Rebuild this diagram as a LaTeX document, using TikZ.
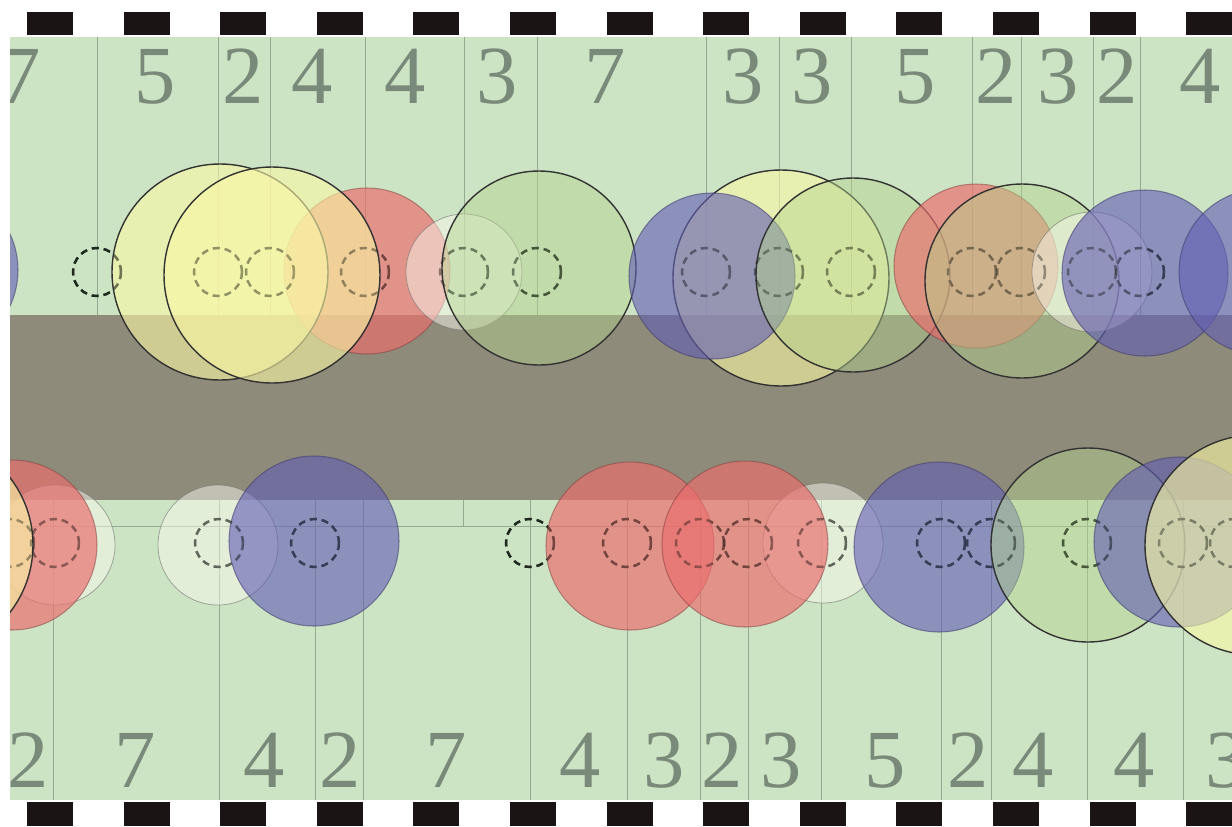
\documentclass[tikz,border=0pt]{standalone}
\usepackage{fontspec}
\setmainfont{Liberation Serif}
\definecolor{bggreen}{RGB}{205,228,196}
\definecolor{roadc}{RGB}{142,139,122}
\definecolor{gridc}{RGB}{150,170,145}
\definecolor{digitc}{RGB}{122,138,122}
\definecolor{sqc}{RGB}{26,20,20}
\definecolor{cblue}{RGB}{100,95,180}
\definecolor{cred}{RGB}{235,110,110}
\definecolor{cyel}{RGB}{250,248,165}
\definecolor{cgrn}{RGB}{180,212,140}
\definecolor{cpale}{RGB}{252,250,240}
\definecolor{dashcol}{RGB}{30,40,30}
\tikzset{
  sqbox/.style={fill=sqc},
  gridln/.style={draw=gridc, line width=0.5pt},
  digit/.style={text=digitc, anchor=base, inner sep=0pt, font=\fontsize{47}{47}\selectfont},
  bluec/.style={fill=cblue, fill opacity=0.62, draw=cblue!60!black, draw opacity=0.55, line width=0.6pt},
  redc/.style={fill=cred, fill opacity=0.68, draw=cred!55!black, draw opacity=0.5, line width=0.6pt},
  yelc/.style={fill=cyel, fill opacity=0.6, draw=black!80, line width=0.8pt},
  grnc/.style={fill=cgrn, fill opacity=0.45, draw=black!80, line width=0.8pt},
  palec/.style={fill=cpale, fill opacity=0.48, draw=black!55, draw opacity=0.6, line width=0.45pt},
  dashc/.style={draw=dashcol, line width=1.4pt, dash pattern=on 4pt off 2.8pt},
  dashtop/.style={dashc, draw opacity=0.38},
}
\newcommand{\mycirc}[4]{\path[#1] (#2,#3) circle[radius=#4*0.02cm];}
\begin{document}
\begin{tikzpicture}[x=0.02cm,y=-0.02cm]
\useasboundingbox (0,0) rectangle (1232,826);
\fill[white] (0,0) rectangle (1232,826);
% black squares
\foreach \k in {0,...,12} {
  \fill[sqbox] ({27+96.6*\k},12) rectangle ++(46,23);
  \fill[sqbox] ({27+96.6*\k},802) rectangle ++(46,24);
}
\begin{scope}
\clip (10,37) rectangle (1232,800);
\fill[bggreen] (10,37) rectangle (1232,800);
% grid lines
\foreach \x in {97,218,270,365,464,537,706,779,851,972,1021,1093,1140}
  {\draw[gridln] (\x,37) -- (\x,315);}
\foreach \x in {53,219,315,363,530,627,700,748,821,941,991,1087,1183}
  {\draw[gridln] (\x,500) -- (\x,800);}
\draw[gridln] (10,526) -- (1232,526);
\draw[gridln] (463,500) -- (463,526);
% road
\fill[roadc] (10,315) rectangle (1232,500);
% labels
\foreach \x/\d [count=\i] in {20/7,155/5,243/2,312/4,405/4,497/3,605/7,743/3,812/3,915/5,996/2,1058/3,1117/2,1200/4}
  {\node[digit] (t\i) at (\x,103) {\d};}
\foreach \x/\d [count=\i] in {28/2,135/7,264/4,340/2,446/7,580/4,664/3,722/2,781/3,885/5,968/2,1033/4,1134/4,1226/3}
  {\node[digit] (b\i) at (\x,787) {\d};}
% dashed circles (beneath)
\foreach \x in {97,218,270,365,464,537,706,779,851,972,1021,1092,1140}
  {\mycirc{dashc}{\x}{272}{24}}
\foreach \x in {10,55,219,315,530,627,700,748,822,941,991,1087,1183,1234}
  {\mycirc{dashc}{\x}{543}{24}}
% upper row circles
\mycirc{bluec}{-67}{270}{85}
\mycirc{redc}{367}{271}{83}
\mycirc{yelc}{220}{272}{108}
\mycirc{yelc}{272}{275}{108}
\mycirc{palec}{464}{272}{58}
\mycirc{grnc}{539}{268}{97}
\mycirc{yelc}{781}{278}{108}
\mycirc{bluec}{712}{276}{83}
\mycirc{grnc}{853}{275}{97}
\mycirc{redc}{976}{266}{82}
\mycirc{grnc}{1022}{281}{97}
\mycirc{palec}{1092}{272}{60}
\mycirc{bluec}{1145}{273}{83}
\mycirc{bluec}{1262}{272}{83}
% lower row circles
\mycirc{palec}{55}{545}{60}
\mycirc{redc}{12}{545}{85}
\mycirc{yelc}{-77}{545}{110}
\mycirc{palec}{218}{545}{60}
\mycirc{bluec}{314}{541}{85}
\mycirc{palec}{823}{543}{60}
\mycirc{redc}{630}{546}{84}
\mycirc{redc}{745}{544}{83}
\mycirc{bluec}{939}{547}{85}
\mycirc{grnc}{1088}{545}{97}
\mycirc{bluec}{1179}{542}{85}
\mycirc{yelc}{1255}{545}{110}
% dashed circles seen through the fills
\foreach \x in {97,218,270,365,464,537,706,779,851,972,1021,1092,1140}
  {\mycirc{dashtop}{\x}{272}{24}}
\foreach \x in {10,55,219,315,530,627,700,748,822,941,991,1087,1183,1234}
  {\mycirc{dashtop}{\x}{543}{24}}
\end{scope}
\end{tikzpicture}
\end{document}
